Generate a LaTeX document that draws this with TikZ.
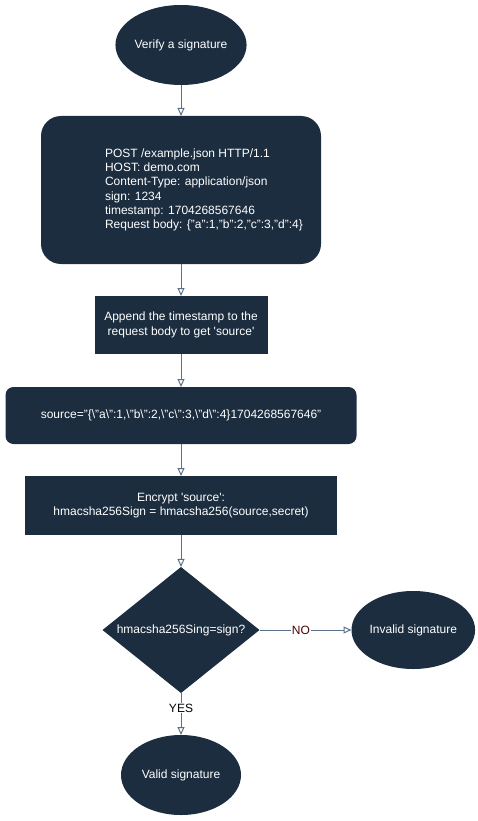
\documentclass[tikz,border=0pt]{standalone}
\usepackage{fontspec}
\setmainfont{Liberation Sans}
\usetikzlibrary{arrows.meta, positioning, shapes.geometric}
\definecolor{navy}{HTML}{1B2D3F}
\definecolor{edgeblue}{HTML}{5B7189}
\definecolor{nored}{HTML}{4C0000}
\tikzset{
  terminal/.style={
    ellipse,
    fill=navy,
    text=white,
    minimum width=120pt,
    minimum height=80pt,
    inner sep=0pt,
    outer sep=0pt,
    font=\fontsize{12}{14.3}\selectfont
  },
  block/.style={
    rectangle,
    fill=navy,
    text=white,
    align=center,
    inner sep=0pt,
    outer sep=0pt,
    font=\fontsize{12}{14.3}\selectfont
  },
  decision/.style={
    diamond,
    fill=navy,
    text=white,
    aspect=1.25,
    minimum width=157pt,
    minimum height=126pt,
    inner sep=0pt,
    outer sep=0pt,
    font=\fontsize{12}{14.3}\selectfont
  },
  arrow/.style={-{Triangle[open,length=8pt,width=7pt]}, draw=edgeblue, line width=1pt},
  edgelabel/.style={fill=white, inner sep=1pt, font=\fontsize{12}{14}\selectfont}
}

\begin{document}
\begin{tikzpicture}
  \useasboundingbox (0pt,0pt) rectangle (478pt,-821pt);

  \node[terminal] (start) at (181pt,-45pt) {Verify a signature};
  \node[block, rounded corners=20pt, minimum width=280pt, minimum height=148pt,
        below=31pt of start] (request)
    {\begin{tabular}{@{\hspace{46pt}}l@{}}
     POST /example.json HTTP/1.1\\
     HOST: demo.com\\
     Content-Type: application/json\\
     sign: 1234\\
     timestamp: 1704268567646\\
     Request body: \{"a":1,"b":2,"c":3,"d":4\}
     \end{tabular}};
  \node[block, minimum width=173pt, minimum height=58pt, below=32pt of request] (append)
    {Append the timestamp to the\\request body to get \textquotesingle source\textquotesingle};
  \node[block, rounded corners=8pt, minimum width=351pt, minimum height=57pt, below=33pt of append] (source)
    {source="\{\textbackslash"a\textbackslash":1,\textbackslash"b\textbackslash":2,\textbackslash"c\textbackslash":3,\textbackslash"d\textbackslash":4\}1704268567646"};
  \node[block, minimum width=312pt, minimum height=59pt, below=32pt of source] (encrypt)
    {Encrypt \textquotesingle source\textquotesingle:\\hmacsha256Sign = hmacsha256(source,secret)};
  \node[decision, below=32pt of encrypt] (check) {hmacsha256Sing=sign?};
  \node[terminal, minimum height=78pt, right=92pt of check] (invalid) {Invalid signature};
  \node[terminal, below=42pt of check] (valid) {Valid signature};

  \draw[arrow] (start) -- (request);
  \draw[arrow] (request) -- (append);
  \draw[arrow] (append) -- (source);
  \draw[arrow] (source) -- (encrypt);
  \draw[arrow] (encrypt) -- (check);
  \draw[arrow] (check) -- node[edgelabel, text=nored, pos=0.45]{NO} (invalid);
  \draw[arrow] (check) -- node[edgelabel, pos=0.36]{YES} (valid);
\end{tikzpicture}
\end{document}
